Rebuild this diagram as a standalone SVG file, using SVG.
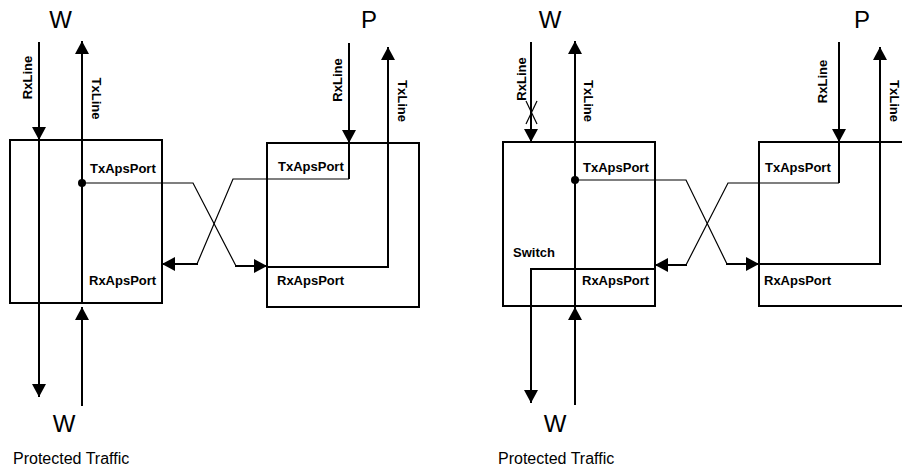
<svg xmlns="http://www.w3.org/2000/svg" width="902" height="471" viewBox="0 0 902 471">
<defs>
<marker id="ah" viewBox="0 0 13 14" refX="13" refY="7" markerWidth="13" markerHeight="14" orient="auto" markerUnits="userSpaceOnUse"><path d="M0,0 L13,7 L0,14 z" fill="#000"/></marker>
<style>
.box{fill:none;stroke:#000;stroke-width:2}
.thick{fill:none;stroke:#000;stroke-width:2}
.thin{fill:none;stroke:#000;stroke-width:1.2}
.arr{marker-end:url(#ah)}
.big{font-family:"Liberation Sans",Arial,sans-serif;font-size:24px;text-anchor:middle}
.lbl{font-family:"Liberation Sans",Arial,sans-serif;font-size:13px;font-weight:bold}
.rot{font-family:"Liberation Sans",Arial,sans-serif;font-size:13px;font-weight:bold;text-anchor:middle}
.cap{font-family:"Liberation Sans",Arial,sans-serif;font-size:16px}
</style>
</defs>
<g id="diagram-left">
<g id="left-node-w">
<rect class="box" x="10" y="140" width="152" height="163"/>
<text class="lbl" x="90" y="173">TxApsPort</text>
<text class="lbl" x="89" y="285">RxApsPort</text>
</g>
<g id="left-node-p">
<rect class="box" x="267" y="143" width="152" height="164"/>
<text class="lbl" x="278" y="171">TxApsPort</text>
<text class="lbl" x="277" y="285">RxApsPort</text>
</g>
<g id="left-labels">
<text class="big" x="60.5" y="28">W</text>
<text class="big" x="369" y="28">P</text>
<text class="big" x="64" y="432">W</text>
<text class="cap" x="13" y="464">Protected Traffic</text>
<text class="rot" transform="translate(32,77.5) rotate(-90)">RxLine</text>
<text class="rot" transform="translate(91.5,98.5) rotate(90)">TxLine</text>
<text class="rot" transform="translate(341.5,80) rotate(-90)">RxLine</text>
<text class="rot" transform="translate(398,101) rotate(90)">TxLine</text>
</g>
<g id="left-connectors">
<line class="thick arr" x1="39" y1="42" x2="39" y2="140"/>
<line class="thick arr" x1="39" y1="140" x2="39" y2="397"/>
<line class="thick arr" x1="82" y1="406" x2="82" y2="307"/>
<line class="thick arr" x1="82" y1="303" x2="82" y2="41"/>
<circle cx="82" cy="183" r="4" fill="#000"/>
<polyline class="thin" points="82,183 193,183 236,266"/>
<line class="thick arr" x1="235" y1="266" x2="267" y2="266"/>
<line class="thick arr" x1="349" y1="43" x2="349" y2="143"/>
<line class="thick" x1="349" y1="142" x2="349" y2="179"/>
<polyline class="thin" points="349,179 233,179 197,264"/>
<line class="thick arr" x1="198" y1="264" x2="162" y2="264"/>
<polyline class="thick arr" points="267,267 388,267 388,47"/>
</g>
</g>
<g id="diagram-right">
<g id="right-node-w">
<rect class="box" x="503" y="142" width="152" height="164"/>
<text class="lbl" x="583" y="172">TxApsPort</text>
<text class="lbl" x="582" y="285">RxApsPort</text>
<text class="lbl" x="513" y="257">Switch</text>
</g>
<g id="right-node-p">
<rect class="box" x="759" y="142" width="200" height="164"/>
<text class="lbl" x="765" y="172">TxApsPort</text>
<text class="lbl" x="764" y="285">RxApsPort</text>
</g>
<g id="right-labels">
<text class="big" x="550" y="28">W</text>
<text class="big" x="862" y="28">P</text>
<text class="big" x="555" y="432">W</text>
<text class="cap" x="498" y="464">Protected Traffic</text>
<text class="rot" transform="translate(526,79) rotate(-90)">RxLine</text>
<text class="rot" transform="translate(583.5,101) rotate(90)">TxLine</text>
<text class="rot" transform="translate(826.5,81.5) rotate(-90)">RxLine</text>
<text class="rot" transform="translate(890,101) rotate(90)">TxLine</text>
</g>
<g id="right-connectors">
<line class="thick arr" x1="531" y1="42" x2="531" y2="142"/>
<line class="thin" x1="526" y1="101" x2="537" y2="124"/>
<line class="thin" x1="537" y1="101" x2="526" y2="124"/>
<line class="thick arr" x1="575" y1="405" x2="575" y2="307"/>
<line class="thick arr" x1="575" y1="306" x2="575" y2="41"/>
<circle cx="575" cy="180" r="4" fill="#000"/>
<polyline class="thin" points="575,180 686,180 727,264"/>
<line class="thick arr" x1="726" y1="264" x2="759" y2="264"/>
<line class="thick arr" x1="839" y1="42" x2="839" y2="142"/>
<line class="thick" x1="839" y1="141" x2="839" y2="183"/>
<polyline class="thin" points="839,183 728,183 686,265"/>
<line class="thick arr" x1="687" y1="265" x2="655" y2="265"/>
<polyline class="thick arr" points="759,264 880,264 880,47"/>
<polyline class="thick arr" points="655,269 531,269 531,403"/>
</g>
</g>
</svg>
